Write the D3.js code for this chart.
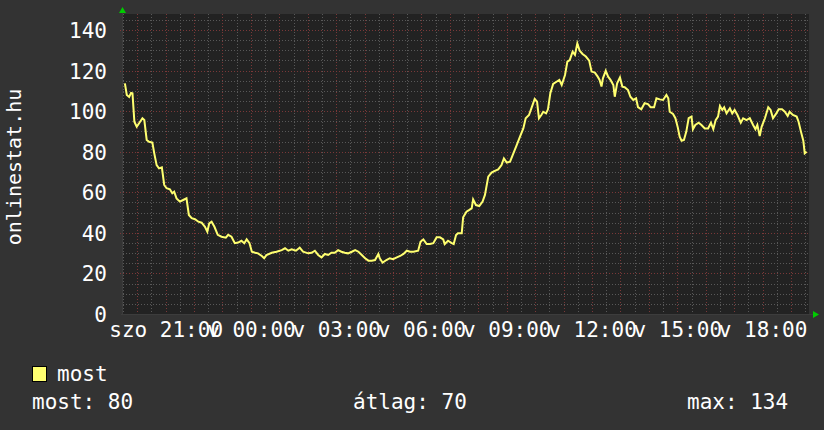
<!DOCTYPE html>
<html><head><meta charset="utf-8">
<script src="https://cdn.jsdelivr.net/npm/d3@7"></script>
<style>
html,body{margin:0;padding:0;background:#333333;}
svg{display:block;}
text{font-family:"DejaVu Sans Mono",monospace;fill:#ffffff;}
</style></head><body>
<svg id="c" width="824" height="430"></svg>
<script>
// minutes after start (szo 19:30)
const minutes = [4,8,13,17,20,24,29,34,41,45,50,55,62,66,71,76,82,87,92,99,104,108,113,120,127,134,139,145,152,159,166,173,178,182,187,193,200,208,217,222,229,236,243,250,256,261,267,272,279,285,293,298,303,314,324,335,342,349,356,365,
373,380,391,398,405,412,419,426,433,440,447,454,461,468,475,483,490,497,504,511,518,525,532,539,542,548,556,563,570,578,585,592,599,606,613,623,628,634,641,648,655,662,669,676,679,686,694,698,703,707,715,718,
725,731,736,739,745,752,759,764,771,778,785,792,799,804,810,817,824,831,838,845,850,857,862,869,874,878,883,887,893,897,902,908,915,921,926,933,938,943,949,954,959,964,970,977,984,989,996,1002,1006,1010,1013,1019,1024,1029,1035,1038,1043,1049,1054,1059,1066,1071,1077,1083,
1087,1094,1101,1108,1114,1121,1126,1133,1140,1147,1151,1154,1161,1166,1171,1175,1179,1184,1189,1194,1200,1203,1208,1215,1221,1228,1235,1241,1246,1251,1256,1260,1265,1269,1274,1281,1286,1291,1297,1304,1309,1316,1323,1330,1335,1339,1344,1348,1355,1362,1367,1372,1379,1384,1391,1397,1403,1407,1414,1422,1426,1431,1436,1439,1443];
const values = [113.7,108,107,109,108.8,94.8,92.3,94,96.5,95.6,85.8,84.9,84.5,79.2,73.4,71.8,72.3,63.6,62,61.5,59.5,60.3,57,55.4,56.2,57,48.8,47.2,46.7,45.5,45,43,40.6,44.7,45.5,43,39,38.1,37.6,39,38.1,34.9,35.2,36.1,34.9,36.8,34.9,30.7,30.2,29.9,28.6,27.5,29.1,30.2,30.7,31.5,32.4,31.2,31.9,31.2,
32.7,30.7,29.9,30.2,31.2,29.1,27.9,29.6,29.1,30.2,30.2,31.5,30.7,30.2,29.9,30.7,31.5,30.7,29.1,27.5,26.3,26.3,26.6,29.6,27.5,25.3,26.6,27.5,27,27.9,28.6,29.6,31.2,30.7,30.7,31.2,35.6,36.8,34.5,34.5,34.9,37.8,37.8,36.8,34.5,36.1,34.9,34.5,38.9,39.8,39.8,47.7,
50.4,51.3,52.1,56.5,53.7,53.2,55.4,58.7,67.7,69.7,70.6,71.3,73.4,76.7,74.6,75.1,79.2,83.3,87.4,91.5,96.5,98.1,101.4,106,104.7,96.5,98.1,99.7,98.9,100.9,108.8,113.4,114.5,115.4,112.9,117.8,124.4,125.2,129.3,127.7,133.4,129.8,128.2,126.9,124.9,119.5,119,117,115.4,112.1,116.2,119.9,117,115.4,112.9,107.1,113.7,116.6,112.1,111.8,110.4,107.1,105.5,106.3,
102,100.9,103.9,103.5,101.9,101.9,106.3,105.8,105.5,108,106.3,99.7,98.6,96.5,92,87.4,85.4,85.8,89.9,96.5,97.3,91.1,93.2,94.3,93.2,91.5,91.5,94.3,91.1,95.6,97.3,102.5,100.6,101.9,98.9,101.4,98.9,100.6,98.1,94.3,96.5,95.6,96.5,93.2,91.1,93.2,87.7,92.3,96.5,101.9,100.6,96.5,98.9,100.9,100.9,99.7,97.6,99.7,98.1,97.3,94.8,89.9,85.4,79.2,80];
const yTicks = [0,20,40,60,80,100,120,140];
const dayNames = ["v","h","k","sze","cs","p","szo"];
const seriesName = "most";
const yTitle = "onlinestat.hu";
const legendStats = [["most", "80"], ["átlag", "70"], ["max", "134"]];

const FS = 21;
const start = new Date(2013, 2, 2, 19, 30);
const endMin = 1448;
const data = minutes.map((m, i) => ({t: new Date(start.getTime() + m * 60000), v: values[i]}));

const L = 123, R = 809, T = 14, B = 314;
const x = d3.scaleTime().domain([start, new Date(start.getTime() + endMin * 60000)]).range([L, R]);
const y = d3.scaleLinear().domain([0, 140]).range([B, 30]);

const svg = d3.select("#c");
svg.append("rect").attr("width", 824).attr("height", 430).attr("fill", "#333333");
svg.append("rect").attr("x", L).attr("y", T).attr("width", R - L).attr("height", B - T + 1).attr("fill", "#222222");

const g = svg.append("g");
// minor y grid (every 5)
const yMinor = d3.range(5, y.invert(T), 5).filter(v => v % 20 !== 0);
g.selectAll(".ym").data(yMinor).join("line")
  .attr("x1", L).attr("x2", R).attr("y1", d => Math.round(y(d)) + 0.5).attr("y2", d => Math.round(y(d)) + 0.5)
  .attr("stroke", "#585858").attr("stroke-dasharray", "1,2");
// minor x grid (half hours)
const xMinor = d3.timeMinute.every(30).range(x.domain()[0], x.domain()[1]).filter(d => d.getMinutes() === 30);
g.selectAll(".xm").data(xMinor).join("line")
  .attr("y1", T).attr("y2", B).attr("x1", d => Math.round(x(d)) + 0.5).attr("x2", d => Math.round(x(d)) + 0.5)
  .attr("stroke", "#585858").attr("stroke-dasharray", "1,2");
// major grid
const xMajor = d3.timeHour.every(1).range(x.domain()[0], x.domain()[1]);
g.selectAll(".xM").data(xMajor).join("line")
  .attr("y1", T).attr("y2", B + 3).attr("x1", d => Math.round(x(d)) + 0.5).attr("x2", d => Math.round(x(d)) + 0.5)
  .attr("stroke", "#7a3838").attr("stroke-dasharray", "1,2");
g.selectAll(".yM").data(yTicks.filter(v => v > 0)).join("line")
  .attr("x1", L - 3).attr("x2", R).attr("y1", d => Math.round(y(d)) + 0.5).attr("y2", d => Math.round(y(d)) + 0.5)
  .attr("stroke", "#7a3838").attr("stroke-dasharray", "1,2");

// axes lines
svg.append("line").attr("x1", L - 0.5).attr("x2", L - 0.5).attr("y1", T - 4).attr("y2", B + 1).attr("stroke", "#3c3c3c");
svg.append("line").attr("x1", L - 2).attr("x2", R + 4).attr("y1", B + 0.5).attr("y2", B + 0.5).attr("stroke", "#3c3c3c");
// arrows
svg.append("path").attr("d", `M${L - 4},${T - 1} L${L + 3},${T - 1} L${L - 0.5},${T - 7} Z`).attr("fill", "#00cc00");
svg.append("path").attr("d", `M${R + 4},${B - 3} L${R + 4},${B + 4} L${R + 10},${B + 0.5} Z`).attr("fill", "#00cc00");

// y labels
const yAxis = d3.axisLeft(y).tickValues(yTicks).tickSize(0).tickPadding(0);
const ya = svg.append("g").attr("transform", `translate(${L - 16},0)`).call(yAxis);
ya.select(".domain").remove();
ya.selectAll("text").attr("font-size", FS).attr("font-family", "DejaVu Sans Mono").attr("fill", "#fff").attr("dy", "0.36em");

// x labels
const xTickVals = d3.timeHour.every(3).range(x.domain()[0], x.domain()[1]);
const fmt = d3.timeFormat("%H:%M");
const xAxis = d3.axisBottom(x).tickValues(xTickVals).tickSize(0).tickPadding(0)
  .tickFormat(d => dayNames[d.getDay()] + " " + fmt(d));
const xa = svg.append("g").attr("transform", `translate(0,${B + 23})`).call(xAxis);
xa.select(".domain").remove();
xa.selectAll("text").attr("font-size", FS).attr("font-family", "DejaVu Sans Mono").attr("fill", "#fff").attr("dy", "0");

// y title
svg.append("text").attr("transform", "translate(21,167) rotate(-90)").attr("text-anchor", "middle")
  .attr("font-size", 20).text(yTitle);

// line
const line = d3.line().x(d => x(d.t)).y(d => y(d.v)).curve(d3.curveLinear);
svg.append("path").datum(data).attr("d", line).attr("fill", "none").attr("stroke", "#ffff70")
  .attr("stroke-width", 2).attr("stroke-linejoin", "miter");

// legend
svg.append("rect").attr("x", 32.5).attr("y", 366.5).attr("width", 14).attr("height", 15)
  .attr("fill", "#ffff70").attr("stroke", "#000").attr("stroke-width", 1);
svg.append("text").attr("x", 57).attr("y", 381).attr("font-size", FS).text(seriesName);
const statX = [32, 353, 687];
legendStats.forEach((s, i) => {
  svg.append("text").attr("x", statX[i]).attr("y", 409).attr("font-size", FS).text(s[0] + ": " + s[1]);
});
</script></body></html>
